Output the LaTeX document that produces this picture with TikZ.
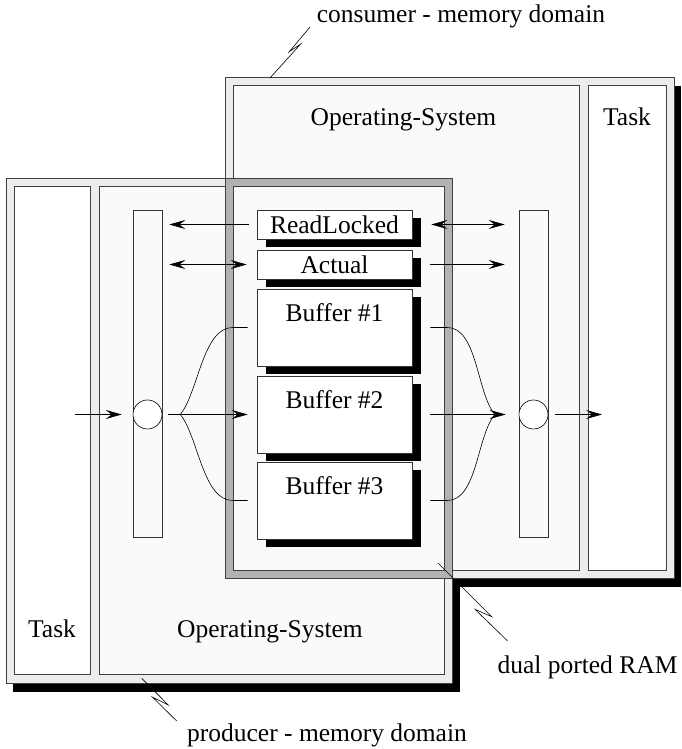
\documentclass[tikz,border=0pt]{standalone}
\usepackage{fontspec}
\setmainfont{Liberation Serif}
\usetikzlibrary{arrows.meta,shadows}

\begin{document}
\begin{tikzpicture}[x=1pt, y=1pt,
    font=\fontsize{25.5}{30}\selectfont,
    line width=0.6pt,
    >={Stealth[length=16pt, width=9pt, inset=6pt]},
    frame/.style={draw=black!75, fill=black!7},
    osbox/.style={draw=black!75, fill=black!2},
    taskbox/.style={draw=black!75, fill=white},
    ramband/.style={draw=black!75, fill=black!30},
    bar/.style={draw=black!80, fill=black!2, minimum width=29pt, minimum height=327pt, inner sep=0pt},
    port/.style={circle, draw, fill=white, minimum size=29pt, inner sep=0pt},
    slot/.style={draw=black!80, fill=white, minimum width=155pt, minimum height=29pt, inner sep=0pt,
        drop shadow={shadow xshift=9pt, shadow yshift=-8pt, fill=black, opacity=1}},
    buf/.style={slot, minimum height=77pt}]
    \useasboundingbox (0,0) rectangle (681,749);
    % drop shadows of both memory domains
    \fill[black] (232,162) rectangle (681,663);
    \fill[black] (13,57) rectangle (460,562);
    % consumer - memory domain
    \draw[frame] (225,171) rectangle (674,672);
    \draw[osbox] (233,179) rectangle (579,664);
    \draw[taskbox] (588,179) rectangle (666,664);
    \node[anchor=base] (cos) at (403.5,623) {Operating-System};
    \node[anchor=base] (ctask) at (627,623) {Task};
    % producer - memory domain
    \draw[frame] (6,66) rectangle (452,571);
    \draw[taskbox] (14,75) rectangle (90,563);
    \draw[osbox] (99,75) rectangle (444,563);
    \node[anchor=base] (ptask) at (52,111) {Task};
    \node[anchor=base] (pos) at (270,111) {Operating-System};
    % dual ported RAM = overlap of both domains
    \draw[ramband] (225,171) rectangle (452,571);
    \draw[osbox] (233,179) rectangle (444,563);
    % labels
    \node[anchor=base] (cdom) at (461,726) {consumer - memory domain};
    \node[anchor=base] (ramlbl) at (587.5,75) {dual ported RAM};
    \node[anchor=base] (pdom) at (327,8) {producer - memory domain};
    % bars and ports
    \node[bar] (lbar) at (147.5,375.5) {};
    \node[bar] (rbar) at (533.5,375.5) {};
    \node[port] (lport) at (147.5,334.5) {};
    \node[port] (rport) at (533.5,334.5) {};
    % shared data in the RAM
    \node[slot] (rl) at (334.5,524.5) {ReadLocked};
    \node[slot] (act) at (334.5,484.5) {Actual};
    \node[buf, label={[anchor=north, inner sep=0pt, yshift=-15pt]north:Buffer \#1}] (buf1) at (334.5,421.5) {};
    \node[buf, label={[anchor=north, inner sep=0pt, yshift=-15pt]north:Buffer \#2}] (buf2) at (334.5,334.5) {};
    \node[buf, label={[anchor=north, inner sep=0pt, yshift=-15pt]north:Buffer \#3}] (buf3) at (334.5,248.5) {};
    % ReadLocked, Actual links
    \draw[->, shorten <=8pt, shorten >=7pt] (rl.west) -- (rl.west -| lbar.east);
    \draw[<->, shorten <=7pt, shorten >=10pt] (act.west -| lbar.east) -- (act.west);
    \draw[<->, shorten <=19pt, shorten >=14pt] (rl.east) -- (rl.east -| rbar.west);
    \draw[->, shorten <=18pt, shorten >=14pt] (act.east) -- (act.east -| rbar.west);
    % producer side: task -> port -> buffers
    \coordinate (pin) at (75,334.5);
    \draw[->, shorten >=11pt] (pin) -- (lport.west);
    \draw[->, shorten <=6pt, shorten >=9pt] (lport.east) -- (buf2.west);
    \coordinate (lfork) at ([xshift=18pt]lport.east);
    \draw (lfork) .. controls +(18,22) and +(-30,0) .. ([xshift=-24pt]buf1.west) -- ([xshift=-9pt]buf1.west);
    \draw (lfork) .. controls +(18,-22) and +(-30,0) .. ([xshift=-24pt]buf3.west) -- ([xshift=-9pt]buf3.west);
    % consumer side: buffers -> port -> task
    \draw[->, shorten <=18pt, shorten >=13pt] (buf2.east) -- (rport.west);
    \coordinate (rfork) at ([xshift=-24pt]rport.west);
    \draw ([xshift=18pt]buf1.east) -- ([xshift=35pt]buf1.east) .. controls +(30,0) and +(-18,22) .. (rfork);
    \draw ([xshift=18pt]buf3.east) -- ([xshift=35pt]buf3.east) .. controls +(30,0) and +(-18,-22) .. (rfork);
    \coordinate (pout) at (602,334.5);
    \draw[->, shorten <=7pt] (rport.east) -- (pout);
    % pointers to the labels
    \draw (270,671) -- (300.7,705) -- (289.3,697.3) -- (310,722);
    \draw (438,186) -- (491.7,132.3) -- (475,139.7) -- (507.3,108.3);
    \draw (141.7,70.7) -- (168.3,44) -- (152.7,51.7) -- (176.7,28);
\end{tikzpicture}
\end{document}
